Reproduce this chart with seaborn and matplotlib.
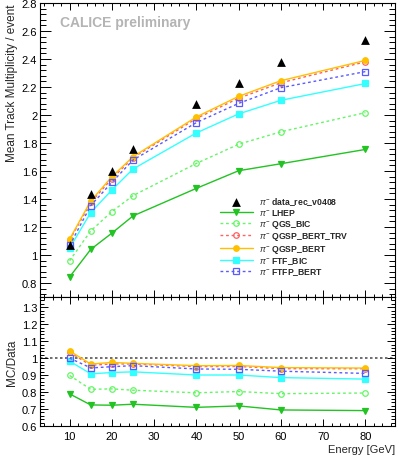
import matplotlib
matplotlib.use('Agg')
import matplotlib.pyplot as plt
import numpy as np
import seaborn as sns
import pandas as pd
from matplotlib.ticker import MultipleLocator

energy = [10, 15, 20, 25, 40, 50, 60, 80]

data_rec = [1.068, 1.436, 1.600, 1.756, 2.079, 2.230, 2.378, 2.539]
lhep = [0.843, 1.040, 1.156, 1.279, 1.476, 1.602, 1.652, 1.754]
qgs_bic = [0.959, 1.172, 1.310, 1.424, 1.654, 1.791, 1.880, 2.017]
qgsp_bert_trv = [1.105, 1.375, 1.545, 1.695, 1.975, 2.120, 2.230, 2.380]
qgsp_bert = [1.113, 1.386, 1.559, 1.702, 1.986, 2.133, 2.245, 2.390]
ftf_bic = [1.049, 1.303, 1.464, 1.614, 1.872, 2.008, 2.105, 2.225]
ftfp_bert = [1.068, 1.353, 1.519, 1.678, 1.946, 2.083, 2.195, 2.310]

models = ['LHEP', 'QGS_BIC', 'QGSP_BERT_TRV', 'QGSP_BERT', 'FTF_BIC', 'FTFP_BERT']
model_vals = [lhep, qgs_bic, qgsp_bert_trv, qgsp_bert, ftf_bic, ftfp_bert]

colors = ['#22c322', '#66f566', '#ff6060', '#ffc000', '#33ffff', '#5a5aff']
styles = ['-', (0, (2, 2)), (0, (2, 2)), '-', '-', (0, (2, 2))]
marks = ['v', 'o', 'o', 'o', 's', 's']
filled = [True, False, False, True, True, False]

rows = []
for name, vals in zip(models, model_vals):
    for e, v, d in zip(energy, vals, data_rec):
        rows.append({'energy': e, 'model': name, 'mult': v, 'ratio': v / d})
df = pd.DataFrame(rows)
df_data = pd.DataFrame({'energy': energy, 'mult': data_rec})

sns.set_style('ticks')
plt.rcParams['font.family'] = ['Liberation Sans', 'DejaVu Sans']
plt.rcParams['mathtext.fontset'] = 'custom'
plt.rcParams['mathtext.rm'] = 'Liberation Sans'
plt.rcParams['mathtext.it'] = 'Liberation Sans:italic'

fig = plt.figure(figsize=(3.99, 4.60), dpi=100)
ax1 = fig.add_axes([0.1003, 0.3522, 0.8897, 0.6391])
ax2 = fig.add_axes([0.1003, 0.0717, 0.8897, 0.2805])

for i, name in enumerate(models):
    sub = df[df.model == name]
    face = colors[i] if filled[i] else 'none'
    for ax, col in ((ax1, 'mult'), (ax2, 'ratio')):
        sns.lineplot(data=sub, x='energy', y=col, ax=ax, color=colors[i],
                     linestyle=styles[i], linewidth=1.0, marker=marks[i],
                     markersize=4, markerfacecolor=face, markeredgecolor=colors[i],
                     markeredgewidth=0.9, label=r'$\pi^{-}$ ' + name if ax is ax1 else None)

sns.scatterplot(data=df_data, x='energy', y='mult', ax=ax1, marker='^', color='black',
                s=40, linewidth=0, zorder=5, label=r'$\pi^{-}$ data_rec_v0408')

ax2.axhline(1.0, color='#555555', linestyle=(0, (1.5, 1.5)), linewidth=1.2, zorder=0)

ax1.set_xlim(3, 87)
ax2.set_xlim(3, 87)
ax1.set_ylim(0.7, 2.8)
ax2.set_ylim(0.6, 1.36)

for ax in (ax1, ax2):
    ax.xaxis.set_major_locator(MultipleLocator(10))
    ax.xaxis.set_minor_locator(MultipleLocator(2))
    for s in ax.spines.values():
        s.set_color('black')
        s.set_linewidth(0.8)
    ax.tick_params(which='both', direction='in', top=True, right=True, labelsize=8,
                   colors='black', width=0.7)
    ax.tick_params(axis='y', pad=2)
    ax.tick_params(axis='x', pad=3.5)

ax1.yaxis.set_major_locator(MultipleLocator(0.2))
ax1.yaxis.set_minor_locator(MultipleLocator(0.04))
ax1.tick_params(axis='y', which='major', length=8)
ax1.tick_params(axis='y', which='minor', length=4)
ax1.tick_params(axis='x', which='major', length=5)
ax1.tick_params(axis='x', which='minor', length=2.5)
ax1.tick_params(axis='x', labelbottom=False)
ax1.set_yticks([0.8, 1, 1.2, 1.4, 1.6, 1.8, 2, 2.2, 2.4, 2.6, 2.8])
ax1.set_yticklabels(['0.8', '1', '1.2', '1.4', '1.6', '1.8', '2', '2.2', '2.4', '2.6', '2.8'])

ax2.yaxis.set_major_locator(MultipleLocator(0.1))
ax2.yaxis.set_minor_locator(MultipleLocator(0.02))
ax2.set_yticks([0.6, 0.7, 0.8, 0.9, 1.0, 1.1, 1.2, 1.3])
ax2.set_yticklabels(['0.6', '0.7', '0.8', '0.9', '1', '1.1', '1.2', '1.3'])
ax2.tick_params(axis='y', which='major', length=6)
ax2.tick_params(axis='y', which='minor', length=3)
ax2.tick_params(axis='x', which='major', length=5)
ax2.tick_params(axis='x', which='minor', length=2.5)

ax1.set_xlabel('')
ax1.set_ylabel('Mean Track Multiplicity / event', fontsize=8.5, loc='top', labelpad=3)
ax2.set_ylabel('MC/Data', fontsize=8.5, labelpad=3)
ax2.set_xlabel('Energy [GeV]', fontsize=8, loc='right', labelpad=2)

ax1.text(0.056, 0.935, 'CALICE preliminary', transform=ax1.transAxes, fontsize=10,
         fontweight='bold', color='#b4b4b4', va='center', ha='left')

h, l = ax1.get_legend_handles_labels()
order = [len(h) - 1] + list(range(len(h) - 1))
leg = ax1.legend([h[i] for i in order], [l[i] for i in order], loc='upper left',
                 bbox_to_anchor=(0.507, 0.347), frameon=False, fontsize=6.2,
                 handlelength=3.8, handletextpad=0.7, labelspacing=0.05, borderpad=0,
                 borderaxespad=0)
for t in leg.get_texts():
    t.set_fontweight('bold')

fig.savefig('out.png', dpi=100)
